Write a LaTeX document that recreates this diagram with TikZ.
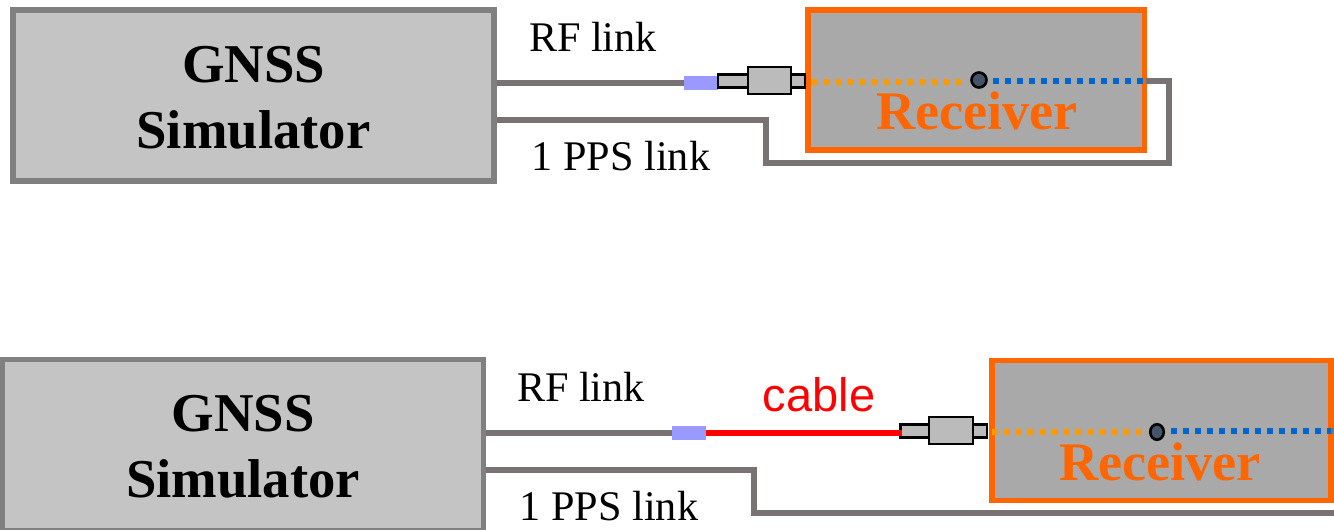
\documentclass[tikz,border=0pt]{standalone}
\usepackage{fontspec}
\setmainfont{Liberation Serif}
\newfontfamily\capfont{Liberation Sans}
\usetikzlibrary{shapes.geometric}
\definecolor{simfill}{HTML}{C4C4C4}
\definecolor{simedge}{HTML}{808080}
\definecolor{wirecol}{HTML}{787372}
\definecolor{rxedge}{HTML}{FF6600}
\definecolor{rxfill}{HTML}{A9A9A9}
\definecolor{sleevecol}{HTML}{9999FF}
\definecolor{plugcol}{HTML}{BBBBBB}
\definecolor{dotcol}{HTML}{44546A}
\definecolor{dotorange}{HTML}{FF9900}
\definecolor{dotblue}{HTML}{0066CC}
\tikzset{
  simbox/.style={draw=simedge,fill=simfill,line width=5.5pt,inner sep=0pt,minimum width=#1,minimum height=171pt},
  simtext/.style={inner sep=0pt,align=center,font=\fontsize{54.7}{66}\selectfont\bfseries},
  rxbox/.style={draw=rxedge,fill=rxfill,line width=5.5pt,inner sep=0pt,minimum width=#1,minimum height=140pt},
  rxtext/.style={text=rxedge,inner sep=0pt,anchor=base,font=\fontsize{54.3}{60}\selectfont\bfseries},
  wire/.style={draw=wirecol,line width=5.6pt,line cap=butt,line join=miter},
  cablewire/.style={draw=red,line width=5.6pt},
  sleeve/.style={fill=sleevecol,inner sep=0pt,minimum width=34pt,minimum height=13.5pt},
  plugsmall/.style={draw=black,fill=plugcol,line width=2.6pt,inner sep=0pt,minimum width=#1,minimum height=13.5pt},
  plugbig/.style={draw=black,fill=plugcol,line width=2.6pt,inner sep=0pt,minimum width=#1,minimum height=27pt},
  orangedots/.style={draw=dotorange,line width=6pt,dash pattern=on 6pt off 6pt},
  bluedots/.style={draw=dotblue,line width=6pt,dash pattern=on 6pt off 6pt},
  hub/.style={circle,draw=black,fill=dotcol,line width=2.6pt,inner sep=0pt,minimum size=#1},
  hubtall/.style={ellipse,draw=black,fill=dotcol,line width=2.6pt,inner sep=0pt,minimum width=13.5pt,minimum height=15.5pt},
  lbl/.style={inner sep=0pt,anchor=base,font=\fontsize{42.2}{46}\selectfont},
  caplbl/.style={inner sep=0pt,anchor=base,text=red,font=\capfont\fontsize{47}{50}\selectfont}
}
\begin{document}
\begin{tikzpicture}[x=1pt,y=-1pt]
\useasboundingbox (0,0) rectangle (1334,530);
% upper set-up
\node[simbox=481pt] (simA) at (253.5,95.5) {};
\node[simtext] (simtA) at (253.5,97.5) {GNSS\\Simulator};
\node[rxbox=336.5pt] (rxA) at (976.2,80) {};
\coordinate (rfA) at (497,83);
\coordinate (ppsA) at (497,120);
\node[sleeve] (slA) at (701,83) {};
\node[plugsmall=30pt] (psA) at (733,81) {};
\node[plugsmall=14pt] (pqA) at (798,81) {};
\node[plugbig=43pt] (pbA) at (769.5,80.5) {};
\coordinate (inA) at (812,82);
\coordinate (inEndA) at (968,82);
\coordinate (blA) at (993,81);
\coordinate (outA) at (1146,81);
\coordinate (b1A) at (1169,81);
\coordinate (b2A) at (1169,163);
\coordinate (b3A) at (766,163);
\coordinate (b4A) at (766,120);
\draw[wire] (rfA) -- (slA.west);
\draw[wire] (outA) -- (b1A) -- (b2A) -- (b3A) -- (b4A) -- (ppsA);
\draw[orangedots] (inA) -- (inEndA);
\draw[bluedots] (blA) -- (outA);
\node[hub=15pt] (hubA) at (979,80) {};
\node[rxtext] (rxtA) at (977,129) {Receiver};
\node[lbl] (rflA) at (593,51) {RF link};
\node[lbl] (pplA) at (621,170) {1 PPS link};
% lower set-up
\node[simbox=481pt] (simB) at (243,445) {};
\node[simtext] (simtB) at (243,447) {GNSS\\Simulator};
\node[rxbox=339pt] (rxB) at (1161.5,430.5) {};
\coordinate (rfB) at (486,433);
\coordinate (ppsB) at (486,470);
\node[sleeve] (slB) at (689,433) {};
\node[plugsmall=29pt] (psB) at (915,431) {};
\node[plugsmall=14pt] (pqB) at (980,431) {};
\node[plugbig=44pt] (pbB) at (951,430.5) {};
\coordinate (inB) at (992,432);
\coordinate (inEndB) at (1148,432);
\coordinate (blB) at (1171,431);
\coordinate (outB) at (1331,431);
\coordinate (endB) at (1334,431);
\coordinate (cabEnd) at (902,433);
\coordinate (b3B) at (754,513);
\coordinate (b4B) at (754,470);
\coordinate (endC) at (1334,513);
\draw[wire] (rfB) -- (slB.west);
\draw[cablewire] (slB.east) -- (cabEnd);
\draw[wire] (outB) -- (endB);
\draw[wire] (endC) -- (b3B) -- (b4B) -- (ppsB);
\draw[orangedots] (inB) -- (inEndB);
\draw[bluedots] (blB) -- (outB);
\node[hubtall] (hubB) at (1157,432) {};
\node[rxtext] (rxtB) at (1160,480) {Receiver};
\node[lbl] (rflB) at (581,401) {RF link};
\node[lbl] (pplB) at (609,520) {1 PPS link};
\node[caplbl] (capB) at (819,411) {cable};
\end{tikzpicture}
\end{document}
